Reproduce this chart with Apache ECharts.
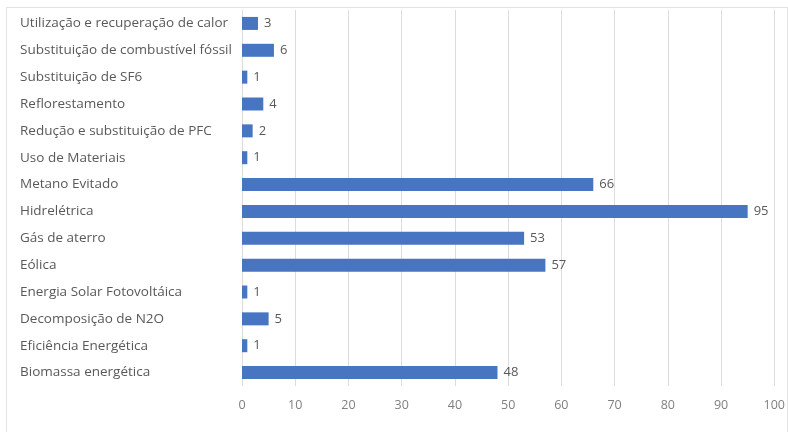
<!DOCTYPE html>
<html>
<head>
<meta charset="utf-8">
<script src="https://cdn.jsdelivr.net/npm/echarts@6/dist/echarts.min.js"></script>
<style>
  html, body { margin: 0; padding: 0; background: #fff; }
  #chart { width: 788px; height: 432px; }
  .frame { position: absolute; left: 6px; top: 7px; width: 782px; height: 430px; border: 1px solid #e3e3e3; box-sizing: border-box; pointer-events: none; }
</style>
</head>
<body>
<div id="chart"></div>
<div class="frame"></div>
<script>
// categories listed bottom to top (category axis starts at the bottom)
const categories = [
  'Biomassa energética',
  'Eficiência Energética',
  'Decomposição de N2O',
  'Energia Solar Fotovoltáica',
  'Eólica',
  'Gás de aterro',
  'Hidrelétrica',
  'Metano Evitado',
  'Uso de Materiais',
  'Redução e substituição de PFC',
  'Reflorestamento',
  'Substituição de SF6',
  'Substituição de combustível fóssil',
  'Utilização e recuperação de calor'
]
const projectCounts = [48, 1, 5, 1, 57, 53, 95, 66, 1, 2, 4, 1, 6, 3]

const axisMin = 0
const axisMax = 100
const axisStep = 10

const chart = echarts.init(document.getElementById('chart'))
chart.setOption({
  animation: false,
  textStyle: { fontFamily: 'Open Sans' },
  grid: {
    left: 242,
    right: 13,
    top: 10,
    bottom: 46,
    containLabel: false
  },
  xAxis: {
    type: 'value',
    min: axisMin,
    max: axisMax,
    interval: axisStep,
    axisLine: { show: false },
    axisTick: { show: false },
    axisLabel: { color: '#7f7f7f', fontSize: 12.5, margin: 13 },
    splitLine: { lineStyle: { color: '#dcdcdc' } }
  },
  yAxis: {
    type: 'category',
    data: categories,
    axisLine: { show: false },
    axisTick: { show: false },
    axisLabel: {
      color: '#595959',
      fontSize: 13.5,
      align: 'left',
      margin: 222
    }
  },
  series: [{
    type: 'bar',
    data: projectCounts,
    barWidth: 13,
    itemStyle: { color: '#4775c2' },
    label: {
      show: true,
      position: 'right',
      distance: 6,
      color: '#595959',
      fontSize: 13
    }
  }]
})
</script>
</body>
</html>
